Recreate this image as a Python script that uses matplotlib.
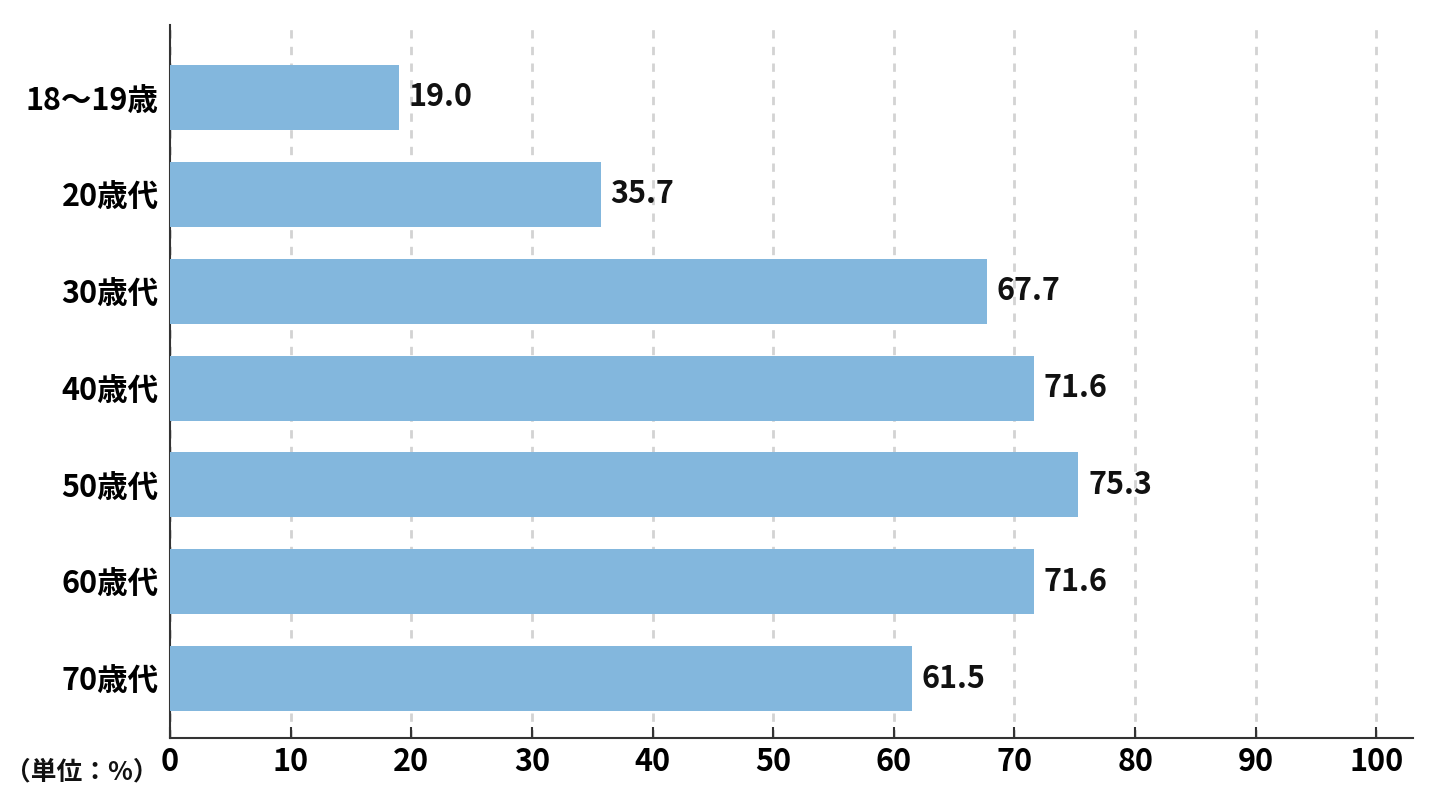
import matplotlib
matplotlib.use("Agg")
import matplotlib.pyplot as plt

categories = ["18〜19歳", "20歳代", "30歳代", "40歳代", "50歳代", "60歳代", "70歳代"]
values = [19.0, 35.7, 67.7, 71.6, 75.3, 71.6, 61.5]
xticks = [0, 10, 20, 30, 40, 50, 60, 70, 80, 90, 100]
unit_label = "（単位：%）"


def main():
    plt.rcParams['font.family'] = ['Noto Sans CJK JP', 'DejaVu Sans']
    plt.rcParams['font.weight'] = 'bold'

    fig = plt.figure(figsize=(14.4, 8.01), dpi=100)
    ax = fig.add_axes([0.118, 0.079, 0.863, 0.89])

    y = list(range(len(categories)))
    ax.barh(y, values, height=0.67, color="#83B7DD", zorder=3)

    for yi, v in zip(y, values):
        ax.text(v + 0.8, yi, f"{v:.1f}", va="center", ha="left",
                fontsize=22, fontweight="bold", color="#111111")

    ax.set_xlim(0, 103)
    ax.set_ylim(len(categories) - 0.39, -0.75)
    ax.set_yticks(y)
    ax.set_yticklabels(categories, fontsize=22, fontweight="bold")
    ax.set_xticks(xticks)
    ax.set_xticklabels([str(t) for t in xticks], fontsize=22, fontweight="bold")

    ax.grid(axis="x", color="#d3d3d3", linestyle=(0, (3, 3)), linewidth=2, zorder=0)
    ax.tick_params(axis="x", direction="in", length=8, width=1.5, pad=6, color="#333333")
    ax.tick_params(axis="y", length=0, pad=8)

    for side in ["top", "right"]:
        ax.spines[side].set_visible(False)
    for side in ["left", "bottom"]:
        ax.spines[side].set_linewidth(1.5)
        ax.spines[side].set_color("#333333")

    ax.text(-0.009, -0.029, unit_label, transform=ax.transAxes, ha="right", va="top",
            fontsize=18.5, fontweight="bold", color="#111111")

    fig.savefig("out.png", dpi=100)
    plt.close(fig)


if __name__ == "__main__":
    main()
